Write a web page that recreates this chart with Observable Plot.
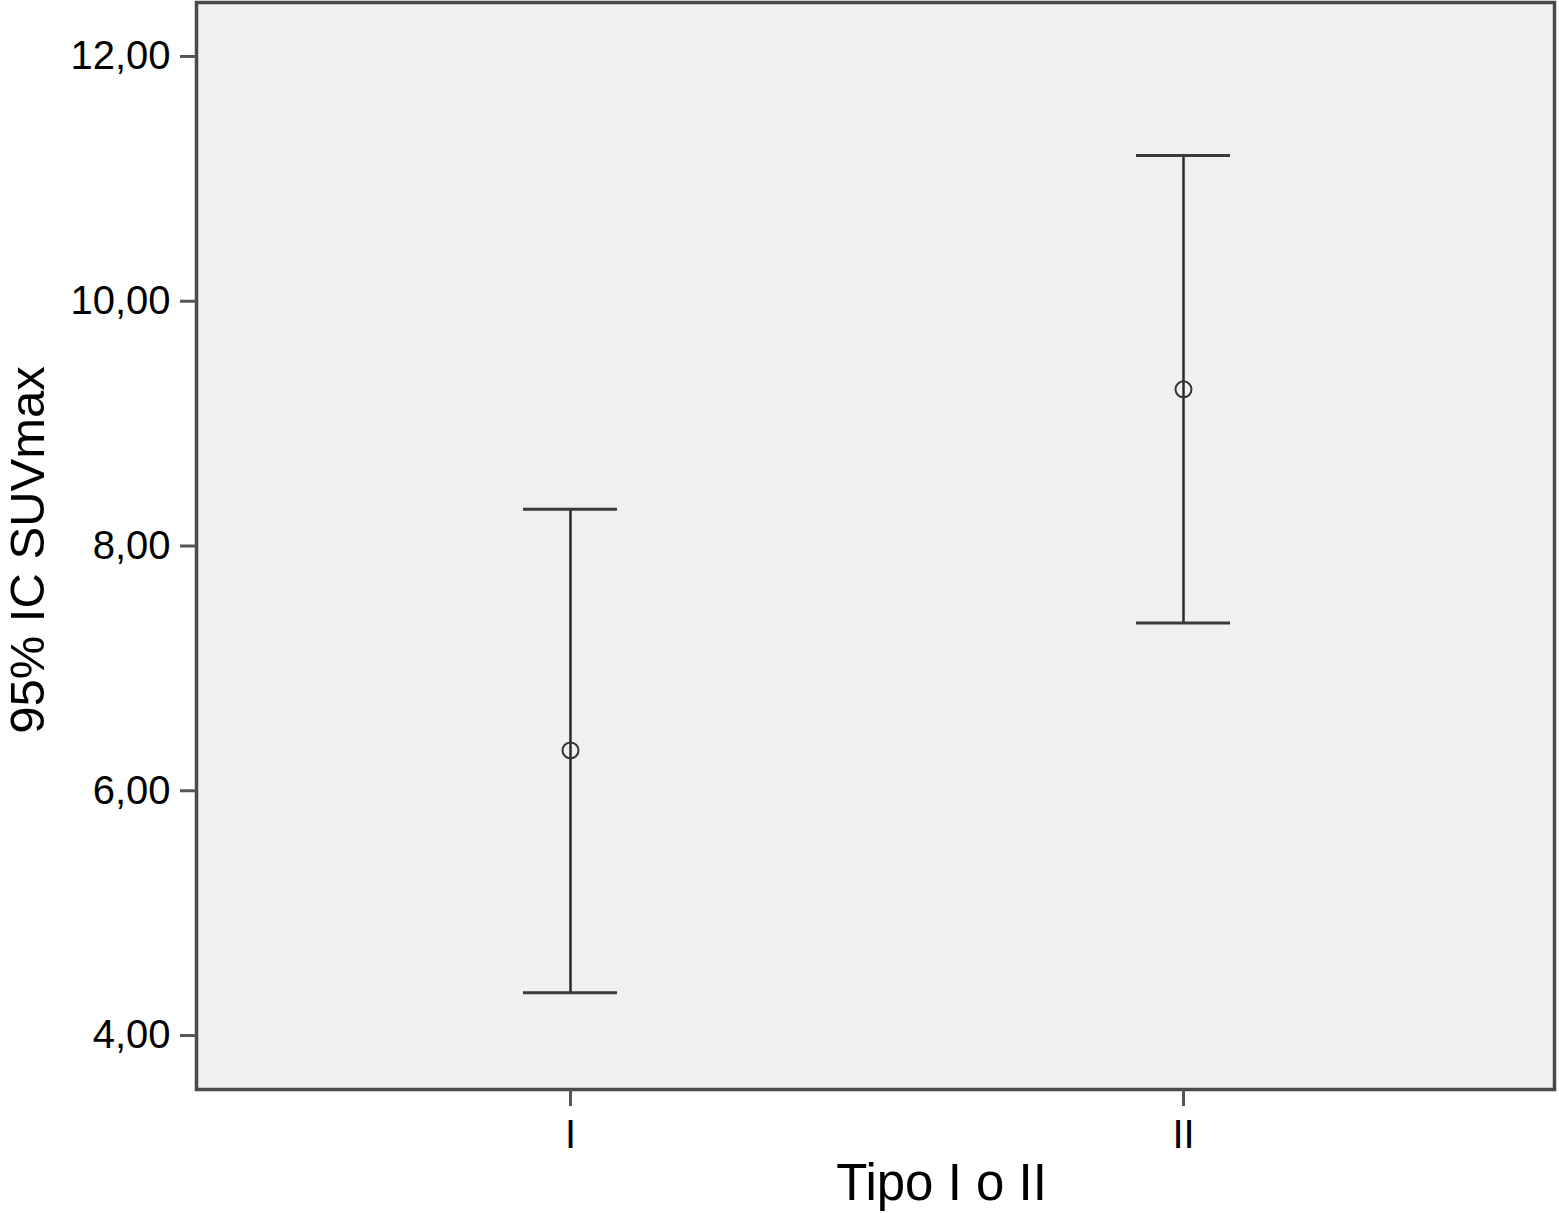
<!DOCTYPE html>
<html>
<head>
<meta charset="utf-8">
<script src="https://cdn.jsdelivr.net/npm/d3@7"></script>
<script src="https://cdn.jsdelivr.net/npm/@observablehq/plot@0.6"></script>
<style>
  html, body { margin: 0; padding: 0; background: #fff; }
  #chart svg { display: block; }
</style>
</head>
<body>
<div id="chart"></div>
<script>
const categories = ["I", "II"];
const means = [6.33, 9.28];
const lower = [4.35, 7.37];
const upper = [8.30, 11.19];
const yTicks = [4, 6, 8, 10, 12];
const xTitle = "Tipo I o II";
const yTitle = "95% IC SUVmax";

const data = categories.map((c, i) => ({cat: c, mean: means[i], lo: lower[i], hi: upper[i]}));
const fmt = d => d.toFixed(2).replace(".", ",");

const chart = Plot.plot({
  width: 1559,
  height: 1213,
  marginLeft: 196,
  marginRight: 5,
  marginTop: 2,
  marginBottom: 124,
  style: {fontFamily: "'Liberation Sans', Arial, Helvetica, sans-serif", background: "#fff"},
  x: {type: "band", domain: categories, paddingInner: 0.8467, paddingOuter: 0.531, align: 0.502},
  y: {domain: [3.559, 12.441]},
  marks: [
    Plot.frame({fill: "#f0f0f0", stroke: "none"}),
    Plot.ruleX(data, {x: "cat", y1: "lo", y2: "hi", stroke: "#2a2a2a", strokeWidth: 2.5}),
    Plot.tickY(data, {x: "cat", y: "lo", stroke: "#3a3a3a", strokeWidth: 3}),
    Plot.tickY(data, {x: "cat", y: "hi", stroke: "#3a3a3a", strokeWidth: 3}),
    Plot.dot(data, {x: "cat", y: "mean", r: 8, stroke: "#333", strokeWidth: 2, fill: "none"}),
    Plot.frame({stroke: "#4a4a4a", strokeWidth: 3.5}),
    Plot.axisY({ticks: yTicks, tickFormat: fmt, tickSize: 16, tickPadding: 10, fontSize: 40, stroke: "#555", strokeWidth: 3, fill: "#000", label: null}),
    Plot.axisX({tickSize: 17, tickPadding: 13, fontSize: 40, stroke: "#555", strokeWidth: 3, fill: "#000", label: null}),
    Plot.text([yTitle], {text: d => d, frameAnchor: "left", textAnchor: "middle", rotate: -90, dx: -168, dy: 4, fontSize: 49, fill: "#000"}),
    Plot.text([xTitle], {text: d => d, frameAnchor: "bottom", dx: 66, dy: 110, fontSize: 51, fill: "#000"})
  ]
});
document.getElementById("chart").appendChild(chart);
</script>
</body>
</html>
